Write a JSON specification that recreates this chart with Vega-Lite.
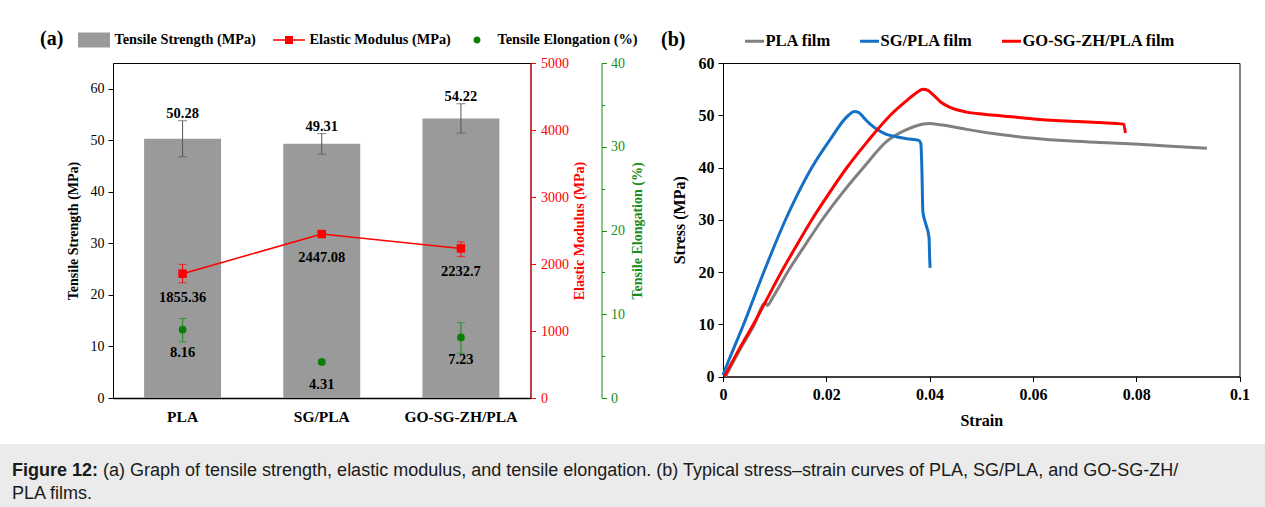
{
  "$schema": "https://vega.github.io/schema/vega-lite/v6.json",
  "background": "white",
  "padding": {"left": 0, "top": 29, "right": 0, "bottom": 0},
  "datasets": {
    "props": [
      {"idx": 1, "sample": "PLA", "strength": 50.28, "s_lo": 46.8, "s_hi": 53.8, "modulus": 1855.36, "m_lo": 1720, "m_hi": 1995, "elong": 8.16, "e_lo": 6.7, "e_hi": 9.5},
      {"idx": 2, "sample": "SG/PLA", "strength": 49.31, "s_lo": 47.3, "s_hi": 51.3, "modulus": 2447.08, "m_lo": 2420, "m_hi": 2475, "elong": 4.31, "e_lo": 4.1, "e_hi": 4.5},
      {"idx": 3, "sample": "GO-SG-ZH/PLA", "strength": 54.22, "s_lo": 51.4, "s_hi": 57.1, "modulus": 2232.7, "m_lo": 2110, "m_hi": 2330, "elong": 7.23, "e_lo": 5.35, "e_hi": 9.0}
    ],
    "curves": [
      {"sample": "PLA film", "strain": 0.0005, "stress": 0},
      {"sample": "PLA film", "strain": 0.0032, "stress": 5.0},
      {"sample": "PLA film", "strain": 0.006, "stress": 9.8},
      {"sample": "PLA film", "strain": 0.0082, "stress": 14.1},
      {"sample": "PLA film", "strain": 0.0086, "stress": 13.6},
      {"sample": "PLA film", "strain": 0.0095, "stress": 14.9},
      {"sample": "PLA film", "strain": 0.0125, "stress": 20},
      {"sample": "PLA film", "strain": 0.0158, "stress": 25},
      {"sample": "PLA film", "strain": 0.0192, "stress": 30},
      {"sample": "PLA film", "strain": 0.023, "stress": 35},
      {"sample": "PLA film", "strain": 0.0272, "stress": 40},
      {"sample": "PLA film", "strain": 0.0317, "stress": 45},
      {"sample": "PLA film", "strain": 0.035, "stress": 47.0},
      {"sample": "PLA film", "strain": 0.0375, "stress": 48.0},
      {"sample": "PLA film", "strain": 0.0398, "stress": 48.4},
      {"sample": "PLA film", "strain": 0.042, "stress": 48.2},
      {"sample": "PLA film", "strain": 0.044, "stress": 47.9},
      {"sample": "PLA film", "strain": 0.0472, "stress": 47.3},
      {"sample": "PLA film", "strain": 0.0537, "stress": 46.3},
      {"sample": "PLA film", "strain": 0.0601, "stress": 45.6},
      {"sample": "PLA film", "strain": 0.0666, "stress": 45.1},
      {"sample": "PLA film", "strain": 0.073, "stress": 44.8},
      {"sample": "PLA film", "strain": 0.0795, "stress": 44.5},
      {"sample": "PLA film", "strain": 0.0859, "stress": 44.1},
      {"sample": "PLA film", "strain": 0.0937, "stress": 43.7},
      {"sample": "SG/PLA film", "strain": 0.0, "stress": 0.3},
      {"sample": "SG/PLA film", "strain": 0.0008, "stress": 2.3},
      {"sample": "SG/PLA film", "strain": 0.004, "stress": 10},
      {"sample": "SG/PLA film", "strain": 0.0079, "stress": 20},
      {"sample": "SG/PLA film", "strain": 0.0121, "stress": 30},
      {"sample": "SG/PLA film", "strain": 0.0145, "stress": 35},
      {"sample": "SG/PLA film", "strain": 0.0172, "stress": 40},
      {"sample": "SG/PLA film", "strain": 0.0205, "stress": 45},
      {"sample": "SG/PLA film", "strain": 0.0243, "stress": 50},
      {"sample": "SG/PLA film", "strain": 0.0254, "stress": 50.7},
      {"sample": "SG/PLA film", "strain": 0.0263, "stress": 50.5},
      {"sample": "SG/PLA film", "strain": 0.0272, "stress": 49.6},
      {"sample": "SG/PLA film", "strain": 0.0285, "stress": 48.3},
      {"sample": "SG/PLA film", "strain": 0.0298, "stress": 47.3},
      {"sample": "SG/PLA film", "strain": 0.0315, "stress": 46.4},
      {"sample": "SG/PLA film", "strain": 0.0335, "stress": 45.9},
      {"sample": "SG/PLA film", "strain": 0.0356, "stress": 45.5},
      {"sample": "SG/PLA film", "strain": 0.0379, "stress": 45.2},
      {"sample": "SG/PLA film", "strain": 0.0383, "stress": 44.6},
      {"sample": "SG/PLA film", "strain": 0.0385, "stress": 40.0},
      {"sample": "SG/PLA film", "strain": 0.0387, "stress": 31.5},
      {"sample": "SG/PLA film", "strain": 0.0392, "stress": 29.4},
      {"sample": "SG/PLA film", "strain": 0.0399, "stress": 26.5},
      {"sample": "SG/PLA film", "strain": 0.04, "stress": 23.0},
      {"sample": "SG/PLA film", "strain": 0.0401, "stress": 20.8},
      {"sample": "GO-SG-ZH/PLA film", "strain": 0.0003, "stress": 0},
      {"sample": "GO-SG-ZH/PLA film", "strain": 0.003, "stress": 5},
      {"sample": "GO-SG-ZH/PLA film", "strain": 0.0059, "stress": 10},
      {"sample": "GO-SG-ZH/PLA film", "strain": 0.0086, "stress": 15},
      {"sample": "GO-SG-ZH/PLA film", "strain": 0.0113, "stress": 20},
      {"sample": "GO-SG-ZH/PLA film", "strain": 0.0142, "stress": 25},
      {"sample": "GO-SG-ZH/PLA film", "strain": 0.0172, "stress": 30},
      {"sample": "GO-SG-ZH/PLA film", "strain": 0.0205, "stress": 35},
      {"sample": "GO-SG-ZH/PLA film", "strain": 0.024, "stress": 40},
      {"sample": "GO-SG-ZH/PLA film", "strain": 0.028, "stress": 45},
      {"sample": "GO-SG-ZH/PLA film", "strain": 0.0324, "stress": 50},
      {"sample": "GO-SG-ZH/PLA film", "strain": 0.0352, "stress": 52.5},
      {"sample": "GO-SG-ZH/PLA film", "strain": 0.0372, "stress": 54.1},
      {"sample": "GO-SG-ZH/PLA film", "strain": 0.0387, "stress": 55.0},
      {"sample": "GO-SG-ZH/PLA film", "strain": 0.0396, "stress": 54.8},
      {"sample": "GO-SG-ZH/PLA film", "strain": 0.0407, "stress": 53.9},
      {"sample": "GO-SG-ZH/PLA film", "strain": 0.0422, "stress": 52.5},
      {"sample": "GO-SG-ZH/PLA film", "strain": 0.044, "stress": 51.5},
      {"sample": "GO-SG-ZH/PLA film", "strain": 0.0472, "stress": 50.6},
      {"sample": "GO-SG-ZH/PLA film", "strain": 0.0505, "stress": 50.2},
      {"sample": "GO-SG-ZH/PLA film", "strain": 0.0537, "stress": 49.9},
      {"sample": "GO-SG-ZH/PLA film", "strain": 0.0601, "stress": 49.3},
      {"sample": "GO-SG-ZH/PLA film", "strain": 0.0666, "stress": 48.9},
      {"sample": "GO-SG-ZH/PLA film", "strain": 0.073, "stress": 48.6},
      {"sample": "GO-SG-ZH/PLA film", "strain": 0.0776, "stress": 48.3},
      {"sample": "GO-SG-ZH/PLA film", "strain": 0.0779, "stress": 46.6}
    ],
    "caption": [
      {"line": 1, "part": "lead", "text": "Figure 12:"},
      {"line": 1, "part": "body", "text": "(a) Graph of tensile strength, elastic modulus, and tensile elongation. (b) Typical stress–strain curves of PLA, SG/PLA, and GO-SG-ZH/"},
      {"line": 2, "part": "cont", "text": "PLA films."}
    ]
  },
  "spacing": 15,
  "resolve": {"scale": {"x": "independent", "y": "independent"}},
  "vconcat": [
    {
      "spacing": 15,
      "resolve": {
        "scale": {"x": "independent", "y": "independent", "color": "independent", "shape": "independent"},
        "legend": {"color": "independent", "shape": "independent"}
      },
      "hconcat": [
        {
          "width": 23.5,
          "height": 5,
          "view": {"stroke": null},
          "data": {"values": []},
          "mark": {"type": "point", "opacity": 0}
        },
        {
          "width": 417.5,
          "height": 335,
          "data": {"name": "props"},
          "encoding": {
            "x": {
              "field": "sample", "type": "nominal", "sort": null,
              "scale": {"paddingInner": 0.447, "paddingOuter": 0.2235},
              "axis": {"title": null, "labelAngle": 0, "ticks": false, "domainColor": "black", "domainWidth": 1.5,
                       "labelFontSize": 15.5, "labelFontWeight": "bold", "labelPadding": 11}
            }
          },
          "layer": [
            {
              "layer": [
                {
                  "mark": {"type": "bar", "color": "#9a9a9a"},
                  "encoding": {
                    "y": {
                      "field": "strength", "type": "quantitative", "title": "Tensile Strength (MPa)",
                      "scale": {"domain": [0, 65], "nice": false},
                      "axis": {
                        "orient": "left",
                        "values": [0, 5, 10, 15, 20, 25, 30, 35, 40, 45, 50, 55, 60],
                        "labelExpr": "datum.value % 10 === 0 ? datum.label : ''",
                        "tickSize": {"condition": {"test": "datum.value % 10 === 0", "value": 5}, "value": 3},
                        "labelFontSize": 14, "titleFontSize": 14, "titleFontWeight": "bold",
                        "labelPadding": 4, "titlePadding": 10
                      }
                    }
                  }
                },
                {
                  "mark": {"type": "rule", "color": "#555555", "strokeWidth": 1},
                  "encoding": {
                    "y": {"field": "s_lo", "type": "quantitative", "title": "Tensile Strength (MPa)"},
                    "y2": {"field": "s_hi"}
                  }
                },
                {
                  "mark": {"type": "tick", "color": "#555555", "size": 9, "thickness": 1},
                  "encoding": {"y": {"field": "s_lo", "type": "quantitative", "title": "Tensile Strength (MPa)"}}
                },
                {
                  "mark": {"type": "tick", "color": "#555555", "size": 9, "thickness": 1},
                  "encoding": {"y": {"field": "s_hi", "type": "quantitative", "title": "Tensile Strength (MPa)"}}
                },
                {
                  "mark": {"type": "text", "font": "Liberation Serif", "fontSize": 14.5, "fontWeight": "bold", "baseline": "alphabetic", "dy": -3, "color": "black"},
                  "encoding": {
                    "y": {"field": "s_hi", "type": "quantitative", "title": "Tensile Strength (MPa)"},
                    "text": {"field": "strength", "type": "nominal"}
                  }
                }
              ]
            },
            {
              "layer": [
                {
                  "mark": {"type": "line", "color": "#ff0000", "strokeWidth": 1.5},
                  "encoding": {
                    "order": {"field": "idx", "type": "quantitative"},
                    "y": {
                      "field": "modulus", "type": "quantitative", "title": "Elastic Modulus (MPa)",
                      "scale": {"domain": [0, 5000], "nice": false},
                      "axis": {
                        "orient": "right",
                        "values": [0, 500, 1000, 1500, 2000, 2500, 3000, 3500, 4000, 4500, 5000],
                        "format": "d",
                        "labelExpr": "datum.value % 1000 === 0 ? datum.label : ''",
                        "tickSize": {"condition": {"test": "datum.value % 1000 === 0", "value": 5}, "value": 3},
                        "domainColor": "#ff0000", "tickColor": "#ff0000", "labelColor": "#ff0000", "titleColor": "#ff0000",
                        "labelFontSize": 14, "titleFontSize": 14, "titleFontWeight": "bold",
                        "labelPadding": 5, "titlePadding": 4, "titleAngle": 270, "titleBaseline": "top"
                      }
                    }
                  }
                },
                {
                  "mark": {"type": "rule", "color": "#ff0000", "strokeWidth": 1},
                  "encoding": {
                    "y": {"field": "m_lo", "type": "quantitative", "title": "Elastic Modulus (MPa)"},
                    "y2": {"field": "m_hi"}
                  }
                },
                {
                  "mark": {"type": "tick", "color": "#ff0000", "size": 8, "thickness": 1},
                  "encoding": {"y": {"field": "m_lo", "type": "quantitative", "title": "Elastic Modulus (MPa)"}}
                },
                {
                  "mark": {"type": "tick", "color": "#ff0000", "size": 8, "thickness": 1},
                  "encoding": {"y": {"field": "m_hi", "type": "quantitative", "title": "Elastic Modulus (MPa)"}}
                },
                {
                  "mark": {"type": "square", "color": "#ff0000", "size": 72, "opacity": 1, "filled": true},
                  "encoding": {"y": {"field": "modulus", "type": "quantitative", "title": "Elastic Modulus (MPa)"}}
                },
                {
                  "mark": {"type": "text", "font": "Liberation Serif", "fontSize": 14.5, "fontWeight": "bold", "baseline": "alphabetic", "dy": 28, "color": "black"},
                  "encoding": {
                    "y": {"field": "modulus", "type": "quantitative", "title": "Elastic Modulus (MPa)"},
                    "text": {"field": "modulus", "type": "nominal"}
                  }
                }
              ]
            },
            {
              "layer": [
                {
                  "mark": {"type": "rule", "color": "#1a8c1a", "strokeWidth": 1},
                  "encoding": {
                    "y": {
                      "field": "e_lo", "type": "quantitative", "title": "Tensile Elongation (%)",
                      "scale": {"domain": [0, 40], "nice": false},
                      "axis": {
                        "orient": "right", "offset": 71,
                        "values": [0, 5, 10, 15, 20, 25, 30, 35, 40],
                        "labelExpr": "datum.value % 10 === 0 ? datum.label : ''",
                        "tickSize": {"condition": {"test": "datum.value % 10 === 0", "value": 5}, "value": 3},
                        "domainColor": "#1a8c1a", "tickColor": "#1a8c1a", "labelColor": "#1a8c1a", "titleColor": "#1a8c1a",
                        "labelFontSize": 14, "titleFontSize": 14, "titleFontWeight": "bold",
                        "labelPadding": 4, "titlePadding": 6, "titleAngle": 270, "titleBaseline": "top"
                      }
                    },
                    "y2": {"field": "e_hi"}
                  }
                },
                {
                  "mark": {"type": "tick", "color": "#1a8c1a", "size": 8, "thickness": 1},
                  "encoding": {"y": {"field": "e_lo", "type": "quantitative", "title": "Tensile Elongation (%)"}}
                },
                {
                  "mark": {"type": "tick", "color": "#1a8c1a", "size": 8, "thickness": 1},
                  "encoding": {"y": {"field": "e_hi", "type": "quantitative", "title": "Tensile Elongation (%)"}}
                },
                {
                  "mark": {"type": "circle", "color": "#0a800a", "size": 60, "opacity": 1},
                  "encoding": {"y": {"field": "elong", "type": "quantitative", "title": "Tensile Elongation (%)"}}
                },
                {
                  "mark": {"type": "text", "font": "Liberation Serif", "fontSize": 14.5, "fontWeight": "bold", "baseline": "alphabetic", "dy": 27, "color": "black"},
                  "encoding": {
                    "y": {"field": "elong", "type": "quantitative", "title": "Tensile Elongation (%)"},
                    "text": {"field": "elong", "type": "nominal"}
                  }
                }
              ]
            },
            {
              "data": {"values": []},
              "mark": {"type": "point", "filled": true, "opacity": 1},
              "encoding": {
                "color": {
                  "field": "series", "type": "nominal",
                  "scale": {"domain": ["Tensile Strength (MPa)", "Elastic Modulus (MPa)", "Tensile Elongation (%)"], "range": ["#9a9a9a", "#ff0000", "#0a800a"]},
                  "legend": {
                    "title": "(a)", "orient": "none", "legendX": -73, "legendY": -33, "direction": "horizontal",
                    "titleOrient": "left", "titleAnchor": "middle", "titleBaseline": "middle",
                    "titleFont": "Liberation Serif", "titleFontSize": 20, "titleFontWeight": "bold", "titleColor": "black", "titlePadding": 20.5,
                    "labelFont": "Liberation Serif", "labelFontSize": 14.3, "labelFontWeight": "bold", "labelColor": "black", "labelOffset": 11, "labelLimit": 300,
                    "columnPadding": 16, "symbolSize": 361, "symbolStrokeWidth": 0, "symbolOpacity": 1
                  }
                },
                "shape": {
                  "field": "series", "type": "nominal",
                  "scale": {
                    "domain": ["Tensile Strength (MPa)", "Elastic Modulus (MPa)", "Tensile Elongation (%)"],
                    "range": [
                      "M-1.684,-0.79H1.684V0.79H-1.684Z",
                      "M-1.684,-0.079H-0.42V-0.42H0.42V-0.079H1.684V0.079H0.42V0.42H-0.42V0.079H-1.684Z",
                      "M0.37,0A0.37,0.37,0,1,1,-0.37,0A0.37,0.37,0,1,1,0.37,0Z"
                    ]
                  },
                  "legend": {
                    "title": "(a)", "orient": "none", "legendX": -73, "legendY": -33, "direction": "horizontal",
                    "titleOrient": "left", "titleAnchor": "middle", "titleBaseline": "middle",
                    "titleFont": "Liberation Serif", "titleFontSize": 20, "titleFontWeight": "bold", "titleColor": "black", "titlePadding": 20.5,
                    "labelFont": "Liberation Serif", "labelFontSize": 14.3, "labelFontWeight": "bold", "labelColor": "black", "labelOffset": 11, "labelLimit": 300,
                    "columnPadding": 16, "symbolSize": 361, "symbolStrokeWidth": 0, "symbolOpacity": 1
                  }
                }
              }
            }
          ],
          "resolve": {"scale": {"y": "independent"}, "axis": {"y": "independent"}}
        },
        {
          "width": 516.5,
          "height": 313.5,
          "data": {"name": "curves"},
          "mark": {"type": "line", "strokeWidth": 3, "strokeJoin": "round", "strokeCap": "butt", "interpolate": "monotone"},
          "encoding": {
            "x": {
              "field": "strain", "type": "quantitative",
              "scale": {"domain": [0, 0.1], "nice": false},
              "axis": {"values": [0, 0.02, 0.04, 0.06, 0.08, 0.1], "format": "~g", "labelFlush": false, "tickSize": 5,
                       "labelFontSize": 16, "labelFontWeight": "bold", "labelPadding": 5,
                       "title": "Strain", "titleFontSize": 16, "titleFontWeight": "bold", "titlePadding": 10}
            },
            "y": {
              "field": "stress", "type": "quantitative",
              "scale": {"domain": [0, 60], "nice": false},
              "axis": {"values": [0, 10, 20, 30, 40, 50, 60], "tickSize": 5,
                       "labelFontSize": 16, "labelFontWeight": "bold", "labelPadding": 4,
                       "title": "Stress (MPa)", "titleFontSize": 16, "titleFontWeight": "bold", "titlePadding": 11}
            },
            "color": {
              "field": "sample", "type": "nominal",
              "scale": {"domain": ["PLA film", "SG/PLA film", "GO-SG-ZH/PLA film"], "range": ["#808080", "#1470c4", "#ff0000"]},
              "legend": {
                "title": "(b)", "orient": "none", "legendX": -62, "legendY": -33, "direction": "horizontal",
                "titleOrient": "left", "titleAnchor": "middle", "titleBaseline": "middle",
                "titleFont": "Liberation Serif", "titleFontSize": 20, "titleFontWeight": "bold", "titleColor": "black", "titlePadding": 57.5,
                "labelFont": "Liberation Serif", "labelFontSize": 16.5, "labelFontWeight": "bold", "labelColor": "black", "labelOffset": 0, "labelLimit": 300,
                "columnPadding": 22, "symbolType": "stroke", "symbolSize": 361, "symbolStrokeWidth": 3
              }
            }
          }
        }
      ]
    },
    {
      "width": 1265,
      "height": 64,
      "view": {"fill": "#ebebeb", "stroke": null},
      "data": {"name": "caption"},
      "encoding": {
        "x": {"datum": 0, "type": "quantitative", "scale": {"domain": [0, 1], "range": [12, 1253]}, "axis": null},
        "y": {"field": "line", "type": "quantitative", "scale": {"domain": [1, 2], "range": [27, 50]}, "axis": null},
        "text": {"field": "text", "type": "nominal"}
      },
      "layer": [
        {
          "transform": [{"filter": "datum.part === 'lead'"}],
          "mark": {"type": "text", "align": "left", "baseline": "middle", "font": "Liberation Sans", "fontSize": 18, "fontWeight": "bold", "color": "#1a1a1a"}
        },
        {
          "transform": [{"filter": "datum.part === 'body'"}],
          "mark": {"type": "text", "align": "left", "baseline": "middle", "font": "Liberation Sans", "fontSize": 18, "color": "#1a1a1a", "dx": 91}
        },
        {
          "transform": [{"filter": "datum.part === 'cont'"}],
          "mark": {"type": "text", "align": "left", "baseline": "middle", "font": "Liberation Sans", "fontSize": 18, "color": "#1a1a1a"}
        }
      ]
    }
  ],
  "config": {
    "font": "Liberation Serif",
    "view": {"stroke": "black", "strokeWidth": 1},
    "axis": {"grid": false, "labelFont": "Liberation Serif", "titleFont": "Liberation Serif", "labelColor": "black", "titleColor": "black",
             "domainColor": "black", "tickColor": "black", "labelOverlap": false}
  }
}
